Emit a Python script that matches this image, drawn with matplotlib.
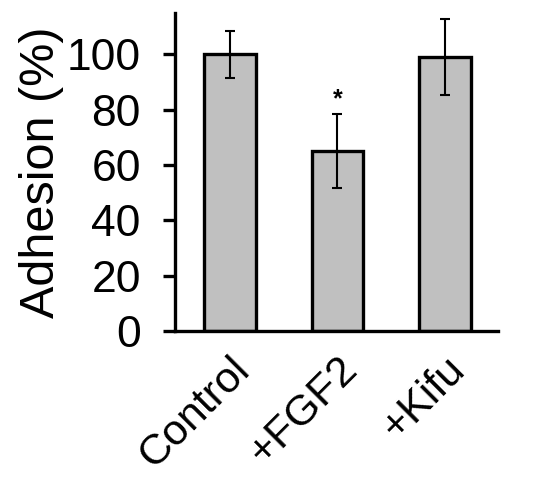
import matplotlib
matplotlib.use("Agg")
import matplotlib.pyplot as plt

categories = ["Control", "+FGF2", "+Kifu"]
values = [100, 65, 99]
errors = [8.5, 13.4, 13.8]
marks = ["", "*", ""]

plt.rcParams['font.family'] = ['Liberation Sans', 'DejaVu Sans']

fig = plt.figure(figsize=(5.5, 4.83), dpi=100)
ax = fig.add_axes([0.318, 0.315, 0.587, 0.658])

x = range(len(categories))
ax.bar(x, values, width=0.48, color='#c0c0c0', edgecolor='black', linewidth=2.4, zorder=2)
ax.errorbar(x, values, yerr=errors, fmt='none', ecolor='black', elinewidth=1.5,
            capsize=3.5, capthick=1.5, zorder=3)
for xi, v, e, m in zip(x, values, errors, marks):
    if m:
        ax.text(xi, v + e + 1, m, ha='center', va='bottom', fontsize=18, fontweight='bold')

ax.set_xlim(-0.51, 2.49)
ax.set_ylim(0, 115)
ax.set_yticks([0, 20, 40, 60, 80, 100])
ax.tick_params(axis='y', labelsize=32, width=2.4, length=8.5, pad=16)
ax.tick_params(axis='x', length=0, labelsize=31, pad=13)
ax.set_xticks(list(x))
ax.set_xticklabels(categories, rotation=45, ha='right', rotation_mode='anchor')
ax.set_ylabel("Adhesion (%)", fontsize=35, labelpad=2)

for s in ['top', 'right']:
    ax.spines[s].set_visible(False)
for s in ['left', 'bottom']:
    ax.spines[s].set_linewidth(2.4)

fig.savefig("out.png", dpi=100)
